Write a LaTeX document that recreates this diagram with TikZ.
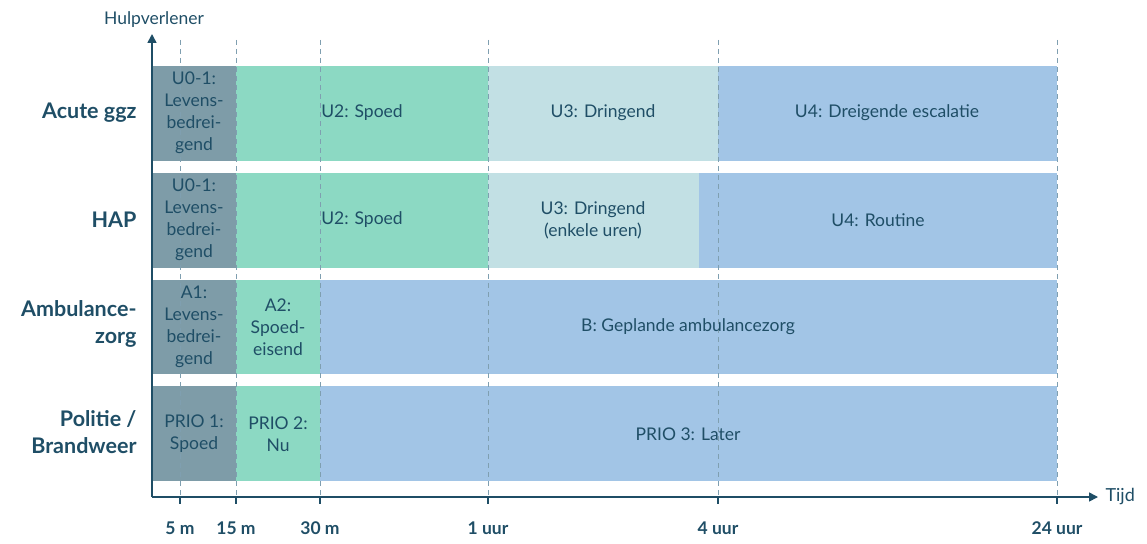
\documentclass[tikz,border=0pt]{standalone}
\usepackage{fontspec}
\setmainfont{Lato}
\usetikzlibrary{arrows.meta}
\definecolor{axis-blue}{HTML}{1F4E66}
\definecolor{dash-gray}{HTML}{7F9FB0}
\definecolor{dark-slate}{HTML}{7E9CA8}
\definecolor{mint}{HTML}{8CD9C3}
\definecolor{pale-blue}{HTML}{C2E0E4}
\definecolor{sky-blue}{HTML}{A2C5E6}

\tikzset{
  blocktext/.style={align=center, text=axis-blue, font=\fontsize{17.5}{22}\selectfont},
  rowlabel/.style={anchor=east, align=right, text=axis-blue, font=\fontsize{21.5}{27}\selectfont\bfseries},
  timelabel/.style={text=axis-blue, font=\fontsize{17.5}{18}\selectfont\bfseries},
  timeline/.style={dash-gray, line width=0.9pt, dash pattern=on 5pt off 4pt},
  tick/.style={axis-blue, line width=1.2pt},
}

\begin{document}
\begin{tikzpicture}[x=1pt, y=-1pt]
        \useasboundingbox (0, 0) rectangle (1147, 543);
        % Acute ggz row
        \fill [dark-slate] (152, 66) rectangle (236, 161);
        \fill [mint] (236, 66) rectangle (488, 161);
        \fill [pale-blue] (488, 66) rectangle (718, 161);
        \fill [sky-blue] (718, 66) rectangle (1057, 161);
        % HAP row
        \fill [dark-slate] (152, 173) rectangle (236, 268);
        \fill [mint] (236, 173) rectangle (488, 268);
        \fill [pale-blue] (488, 173) rectangle (699, 268);
        \fill [sky-blue] (699, 173) rectangle (1057, 268);
        % Ambulancezorg row
        \fill [dark-slate] (152, 280) rectangle (236, 374);
        \fill [mint] (236, 280) rectangle (320, 374);
        \fill [sky-blue] (320, 280) rectangle (1057, 374);
        % Politie / Brandweer row
        \fill [dark-slate] (152, 386) rectangle (236, 481);
        \fill [mint] (236, 386) rectangle (320, 481);
        \fill [sky-blue] (320, 386) rectangle (1057, 481);
        % Time marks, dashed
        \coordinate (t5top) at (180, 40);   \coordinate (t5) at (180, 497);
        \coordinate (t15top) at (236, 40);  \coordinate (t15) at (236, 497);
        \coordinate (t30top) at (320, 40);  \coordinate (t30) at (320, 497);
        \coordinate (t1htop) at (488, 40);  \coordinate (t1h) at (488, 497);
        \coordinate (t4htop) at (718, 40);  \coordinate (t4h) at (718, 497);
        \coordinate (t24htop) at (1057, 40); \coordinate (t24h) at (1057, 497);
        \draw [timeline] (t5top) -- (t5);
        \draw [timeline] (t15top) -- (t15);
        \draw [timeline] (t30top) -- (t30);
        \draw [timeline] (t1htop) -- (t1h);
        \draw [timeline] (t4htop) -- (t4h);
        \draw [timeline] (t24htop) -- (t24h);
        % Axes
        \coordinate (origin) at (152, 497);
        \coordinate (ytop) at (152, 34);
        \coordinate (xend) at (1098, 497);
        \draw [axis-blue, line width=1.6pt, -{Triangle[length=9pt, width=9pt]}] (origin) -- (ytop);
        \draw [axis-blue, line width=1.6pt, -{Triangle[length=9pt, width=9pt]}] (origin) -- (xend);
        \node [text=axis-blue, font=\fontsize{17.5}{18}\selectfont] (yname) at (154, 20) {Hulpverlener};
        \node [anchor=west, text=axis-blue, font=\fontsize{18}{18}\selectfont] (xname) at (1102, 497) {Tijd};
        % Ticks
        \draw [tick] (t5) -- ++(0, 7);
        \draw [tick] (t15) -- ++(0, 7);
        \draw [tick] (t30) -- ++(0, 7);
        \draw [tick] (t1h) -- ++(0, 7);
        \draw [tick] (t4h) -- ++(0, 7);
        \draw [tick] (t24h) -- ++(0, 7);
        % Tick labels
        \node [timelabel] (l5) at (180, 528) {5 m};
        \node [timelabel] (l15) at (236, 528) {15 m};
        \node [timelabel] (l30) at (320, 528) {30 m};
        \node [timelabel] (l1h) at (488, 528) {1 uur};
        \node [timelabel] (l4h) at (718, 528) {4 uur};
        \node [timelabel] (l24h) at (1057, 528) {24 uur};
        % Row labels
        \node [rowlabel] (acute) at (140, 113) {Acute ggz};
        \node [rowlabel] (hap) at (140, 220) {HAP};
        \node [rowlabel] (ambu) at (140, 324) {Ambulance-\\zorg};
        \node [rowlabel] (politie) at (140, 432) {Politie /\\Brandweer};
        % Acute ggz texts
        \node [blocktext] (acuteU01) at (194, 113) {U0-1:\\Levens-\\bedrei-\\gend};
        \node [blocktext] (acuteU2) at (362, 113) {U2: Spoed};
        \node [blocktext] (acuteU3) at (603, 113) {U3: Dringend};
        \node [blocktext] (acuteU4) at (887, 113) {U4: Dreigende escalatie};
        % HAP texts
        \node [blocktext] (hapU01) at (194, 220) {U0-1:\\Levens-\\bedrei-\\gend};
        \node [blocktext] (hapU2) at (362, 220) {U2: Spoed};
        \node [blocktext] (hapU3) at (593, 220) {U3: Dringend\\(enkele uren)};
        \node [blocktext] (hapU4) at (878, 220) {U4: Routine};
        % Ambulancezorg texts
        \node [blocktext] (ambuA1) at (194, 327) {A1:\\Levens-\\bedrei-\\gend};
        \node [blocktext] (ambuA2) at (278, 327) {A2:\\Spoed-\\eisend};
        \node [blocktext] (ambuB) at (688, 327) {B: Geplande ambulancezorg};
        % Politie / Brandweer texts
        \node [blocktext] (prio1) at (194, 434) {PRIO 1:\\Spoed};
        \node [blocktext] (prio2) at (278, 434) {PRIO 2:\\Nu};
        \node [blocktext] (prio3) at (688, 434) {PRIO 3: Later};
    \end{tikzpicture}
\end{document}
